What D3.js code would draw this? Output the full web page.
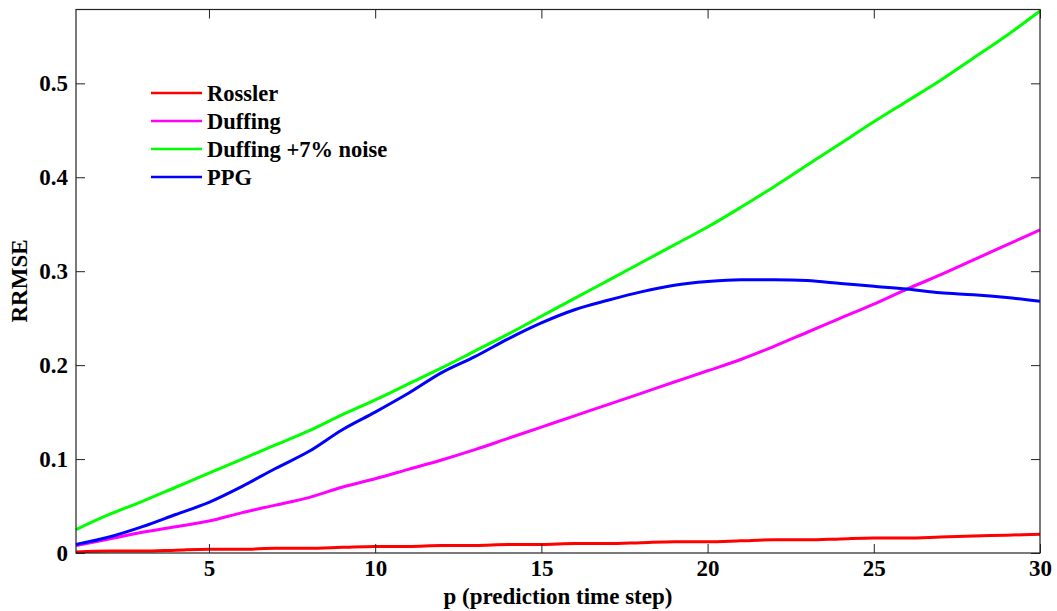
<!DOCTYPE html>
<html>
<head>
<meta charset="utf-8">
<script src="https://cdn.jsdelivr.net/npm/d3@7"></script>
<style>
  html, body { margin: 0; padding: 0; background: #fff; }
  #chart text { font-family: "Times New Roman", "Liberation Serif", Tinos, "DejaVu Serif", serif !important; font-weight: bold; }
</style>
</head>
<body>
<svg id="chart" width="1057" height="611"></svg>
<script>
// Prediction horizon p = 1..30
const steps = d3.range(1, 31);

const rossler = [0.001, 0.002, 0.002, 0.003, 0.004, 0.004, 0.005, 0.005, 0.006, 0.007,
                 0.007, 0.008, 0.008, 0.009, 0.009, 0.010, 0.010, 0.011, 0.012, 0.012,
                 0.013, 0.014, 0.014, 0.015, 0.016, 0.016, 0.017, 0.018, 0.019, 0.020];
const duffing = [0.008, 0.015, 0.022, 0.028, 0.034, 0.043, 0.051, 0.059, 0.070, 0.079,
                 0.089, 0.099, 0.110, 0.122, 0.134, 0.146, 0.158, 0.170, 0.182, 0.194,
                 0.206, 0.220, 0.235, 0.250, 0.265, 0.281, 0.296, 0.312, 0.328, 0.344];
const duffingNoise = [0.025, 0.041, 0.055, 0.070, 0.085, 0.100, 0.115, 0.130, 0.147, 0.163,
                      0.180, 0.197, 0.215, 0.233, 0.252, 0.271, 0.290, 0.309, 0.328, 0.347,
                      0.368, 0.390, 0.413, 0.436, 0.459, 0.481, 0.503, 0.527, 0.551, 0.577];
const ppg = [0.009, 0.017, 0.028, 0.041, 0.054, 0.071, 0.090, 0.108, 0.131, 0.150,
             0.170, 0.192, 0.209, 0.228, 0.245, 0.259, 0.269, 0.278, 0.285, 0.289,
             0.291, 0.291, 0.290, 0.287, 0.284, 0.281, 0.277, 0.275, 0.272, 0.268];

const seriesNames = ["Rossler", "Duffing", "Duffing +7% noise", "PPG"];
const seriesColors = ["#ff0000", "#ff00ff", "#00ff00", "#0000ff"];
const seriesValues = [rossler, duffing, duffingNoise, ppg];

const xTicks = [5, 10, 15, 20, 25, 30];
const yTicks = [0, 0.1, 0.2, 0.3, 0.4, 0.5];

const svg = d3.select("#chart");
const plotLeft = 76, plotRight = 1040, plotTop = 9.5, plotBottom = 553;
const serif = '"Times New Roman", "Liberation Serif", Tinos, "DejaVu Serif", serif';

const x = d3.scaleLinear().domain([1, 30]).range([plotLeft, plotRight]);
const y = d3.scaleLinear().domain([0, 0.5786]).range([plotBottom, plotTop]);

// Lines
const line = d3.line().x((d, i) => x(steps[i])).y(d => y(d)).curve(d3.curveMonotoneX);
svg.append("g").selectAll("path")
  .data(seriesValues)
  .join("path")
  .attr("d", d => line(d))
  .attr("fill", "none")
  .attr("stroke", (d, i) => seriesColors[i])
  .attr("stroke-width", 3)
  .attr("stroke-linejoin", "round");

// Axes box with inward ticks on all four sides
const tickLen = 9;
const axisColor = "#222";
const xAxisB = svg.append("g").attr("transform", `translate(0,${plotBottom})`)
  .call(d3.axisBottom(x).tickValues(xTicks).tickSizeInner(-tickLen).tickSizeOuter(0).tickPadding(7).tickFormat(d3.format("d")));
const xAxisT = svg.append("g").attr("transform", `translate(0,${plotTop})`)
  .call(d3.axisTop(x).tickValues(xTicks).tickSizeInner(-tickLen).tickSizeOuter(0).tickFormat(""));
const yAxisL = svg.append("g").attr("transform", `translate(${plotLeft},0)`)
  .call(d3.axisLeft(y).tickValues(yTicks).tickSizeInner(-tickLen).tickSizeOuter(0).tickPadding(8)
    .tickFormat(d => d === 0 ? "0" : d3.format(".1f")(d)));
const yAxisR = svg.append("g").attr("transform", `translate(${plotRight},0)`)
  .call(d3.axisRight(y).tickValues(yTicks).tickSizeInner(-tickLen).tickSizeOuter(0).tickFormat(""));

[xAxisB, xAxisT, yAxisL, yAxisR].forEach(g => {
  g.attr("font-family", serif);
  g.select(".domain").remove();
  g.selectAll("line").attr("stroke", axisColor).attr("stroke-width", 1);
  g.selectAll("text").attr("font-size", 23).attr("fill", "#000")
    .attr("font-family", serif).attr("font-weight", "bold");
});

svg.append("rect")
  .attr("x", plotLeft).attr("y", plotTop)
  .attr("width", plotRight - plotLeft).attr("height", plotBottom - plotTop)
  .attr("fill", "none").attr("stroke", axisColor).attr("stroke-width", 1.2);

// Axis titles
svg.append("text")
  .attr("x", 558).attr("y", 604)
  .attr("text-anchor", "middle").attr("font-size", 23)
  .attr("font-family", serif)
  .text("p (prediction time step)");
svg.append("text")
  .attr("transform", "translate(27,281) rotate(-90)")
  .attr("text-anchor", "middle").attr("font-size", 23)
  .attr("font-family", serif)
  .text("RRMSE");

// Legend
const legend = svg.append("g").selectAll("g")
  .data(seriesNames)
  .join("g")
  .attr("transform", (d, i) => `translate(151,${93 + i * 28})`);
legend.append("line")
  .attr("x1", 0).attr("x2", 51)
  .attr("stroke", (d, i) => seriesColors[i]).attr("stroke-width", 2.5);
legend.append("text")
  .attr("x", 56).attr("dy", "0.35em")
  .attr("font-size", 22.5)
  .attr("font-family", serif)
  .text(d => d);
</script>
</body>
</html>
